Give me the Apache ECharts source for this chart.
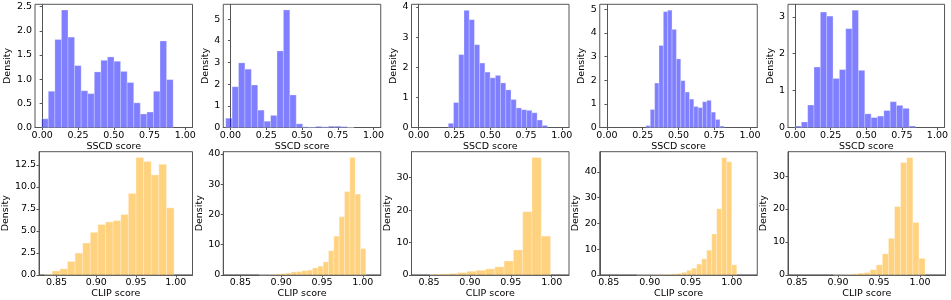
<!DOCTYPE html>
<html><head><meta charset="utf-8">
<script src="https://cdn.jsdelivr.net/npm/echarts@6/dist/echarts.min.js"></script>
<style>html,body{margin:0;padding:0;background:#fff}#c{width:951px;height:300px}</style>
</head><body><div id="c"></div>
<script>
// ---------- data ----------
const sscdXTicks = [0, 0.25, 0.5, 0.75, 1.0];
const clipXTicks = [0.85, 0.90, 0.95, 1.00];

const sscd1 = [0.18, 0.75, 1.82, 2.43, 1.87, 1.28, 0.76, 0.70, 1.15, 1.39, 1.46, 1.37, 1.16, 0.93, 0.51, 0.28, 0.32, 0.75, 1.79, 0.99];
const sscd2 = [0.43, 1.88, 2.98, 2.69, 1.96, 0.80, 0.29, 0.56, 3.53, 5.42, 1.50, 0.17, 0.03, 0.02, 0.05, 0.03, 0.06, 0.06, 0.04, 0.0];
const sscd3 = [0.14, 0.83, 2.42, 3.89, 3.58, 2.75, 2.14, 1.84, 1.65, 1.73, 1.48, 1.25, 0.93, 0.65, 0.59, 0.57, 0.49, 0.25, 0.07];
const sscd4 = [0.08, 0.76, 1.88, 3.47, 4.90, 4.96, 4.15, 2.90, 1.98, 1.50, 1.20, 0.89, 0.84, 1.09, 1.15, 0.65, 0.34, 0.06];
const sscd5 = [0.04, 0.15, 0.61, 1.64, 3.13, 3.02, 1.33, 1.57, 2.68, 3.18, 1.55, 0.37, 0.27, 0.31, 0.46, 0.70, 0.60, 0.52, 0.04];

const clip1 = [0.08, 0.45, 0.69, 1.52, 2.48, 3.62, 4.84, 5.72, 6.02, 6.17, 6.86, 9.26, 13.34, 12.88, 11.36, 12.58, 7.62];
const clip2 = [0.0, 0.05, 0.1, 0.3, 0.4, 0.6, 1.0, 1.1, 1.4, 1.6, 2.3, 2.9, 4.3, 8.0, 12.8, 19.2, 27.5, 38.8, 26.7, 8.7];
const clip3 = [0.2, 0.31, 0.41, 0.72, 1.13, 1.44, 1.86, 2.5, 4.3, 7.7, 19.5, 36.2, 11.96];
const clip4 = [0.02, 0.03, 0.05, 0.08, 0.1, 0.15, 0.3, 0.4, 0.5, 1.0, 1.8, 2.6, 4.2, 6.25, 9.6, 15.9, 25.7, 45.6, 44.0, 3.9];
const clip5 = [0.03, 0.05, 0.1, 0.3, 0.5, 0.7, 1.6, 3.05, 6.4, 11.1, 20.75, 34.1, 35.6, 15.9, 5.0];

const sscdBinStart = [-0.003, -0.033, 0.207, 0.2725, -0.001];
const sscdBinWidth = [0.0459, 0.0448, 0.0365, 0.0304, 0.0446];
const clipBinStart = [0.835, 0.8731, 0.851, 0.884, 0.8945];
const clipBinWidth = [0.00958, 0.00653, 0.01135, 0.0061, 0.00744];

const sscdXRange = [[-0.05, 1.05], [-0.05, 1.05], [-0.05, 1.05], [-0.05, 1.05], [-0.05, 1.05]];
const clipXRange = [[0.828, 1.021], [0.829, 1.022], [0.8286, 1.0211], [0.839, 1.031], [0.839, 1.031]];

const sscdYMax = [2.548, 5.68, 4.09, 5.21, 3.34];
const clipYMax = [14.0, 40.7, 38.0, 47.9, 37.4];
const sscdYTicks = [[0, 0.5, 1, 1.5, 2, 2.5], [0, 1, 2, 3, 4, 5], [0, 1, 2, 3, 4], [0, 1, 2, 3, 4, 5], [0, 1, 2, 3]];
const clipYTicks = [[0, 2.5, 5, 7.5, 10, 12.5], [0, 10, 20, 30, 40], [0, 10, 20, 30], [0, 10, 20, 30, 40], [0, 10, 20, 30]];
const sscdYDecimals = [1, 0, 0, 0, 0];
const clipYDecimals = [1, 0, 0, 0, 0];

const sscdXName = 'SSCD score';
const clipXName = 'CLIP score';
const yName = 'Density';

// ---------- layout ----------
const FONT = 'DejaVu Sans';
const FS = 9.5;
const TXT = '#000';
const SPINE = '#555';
const colLeft = [35, 223.25, 411.5, 599.75, 788];
const colWidth = 157.5;
const rowTop = [4.3, 151.7];
const rowHeight = 123.2;
const topNameGap = [15.5, 8.5, 8.5, 8.5, 8.5];
const botNameGap = [20.5, 14, 14, 14, 14];

const panels = [];
const sscdData = [sscd1, sscd2, sscd3, sscd4, sscd5];
const clipData = [clip1, clip2, clip3, clip4, clip5];
for (let i = 0; i < 5; i++) {
  panels.push({row: 0, col: i, vals: sscdData[i], start: sscdBinStart[i], w: sscdBinWidth[i],
    xr: sscdXRange[i], xt: sscdXTicks, xdec: 2, ymax: sscdYMax[i], yt: sscdYTicks[i], ydec: sscdYDecimals[i],
    xname: sscdXName, gap: topNameGap[i], fill: 'rgba(0,0,255,0.5)'});
}
for (let i = 0; i < 5; i++) {
  panels.push({row: 1, col: i, vals: clipData[i], start: clipBinStart[i], w: clipBinWidth[i],
    xr: clipXRange[i], xt: clipXTicks, xdec: 2, ymax: clipYMax[i], yt: clipYTicks[i], ydec: clipYDecimals[i],
    xname: clipXName, gap: botNameGap[i], fill: 'rgba(255,165,0,0.5)'});
}

const grid = [], xAxis = [], yAxis = [], series = [];
panels.forEach((p, k) => {
  grid.push({left: colLeft[p.col], top: rowTop[p.row], width: colWidth, height: rowHeight,
    show: true, borderColor: SPINE, borderWidth: 1, containLabel: false});
  xAxis.push({type: 'value', gridIndex: k, min: p.xr[0], max: p.xr[1],
    name: p.xname, nameLocation: 'middle', nameGap: 13,
    nameTextStyle: {fontFamily: FONT, fontSize: FS, color: TXT},
    axisLine: {show: true, onZero: false, lineStyle: {color: SPINE, width: 1}},
    axisTick: {show: true, length: 2.5, customValues: p.xt, lineStyle: {color: SPINE}},
    axisLabel: {show: true, customValues: p.xt, margin: 3, fontFamily: FONT, fontSize: FS, color: TXT,
      formatter: v => Number(v).toFixed(p.xdec)},
    splitLine: {show: false}});
  yAxis.push({type: 'value', gridIndex: k, min: 0, max: p.ymax,
    name: yName, nameLocation: 'middle', nameGap: p.gap, nameRotate: 90,
    nameTextStyle: {fontFamily: FONT, fontSize: FS, color: TXT},
    axisLine: {show: true, lineStyle: {color: SPINE, width: 1}},
    axisTick: {show: true, length: 2.5, customValues: p.yt, lineStyle: {color: SPINE}},
    axisLabel: {show: true, customValues: p.yt, margin: 3, fontFamily: FONT, fontSize: FS, color: TXT,
      formatter: v => Number(v).toFixed(p.ydec)},
    splitLine: {show: false}});
  const data = p.vals.map((v, i) => [p.start + i * p.w, p.start + (i + 1) * p.w, v]);
  const fill = p.fill;
  series.push({type: 'custom', xAxisIndex: k, yAxisIndex: k, data: data,
    encode: {x: [0, 1], y: 2},
    renderItem: (params, api) => {
      const a = api.coord([api.value(0), api.value(2)]);
      const b = api.coord([api.value(1), 0]);
      return {type: 'rect', shape: {x: a[0], y: a[1], width: b[0] - a[0], height: b[1] - a[1]},
        style: {fill: fill, stroke: 'rgba(255,255,255,0.35)', lineWidth: 0.8}};
    }});
});

const chart = echarts.init(document.getElementById('c'), null, {renderer: 'canvas'});
chart.setOption({animation: false, backgroundColor: '#fff', grid, xAxis, yAxis, series});
</script>
</body></html>
